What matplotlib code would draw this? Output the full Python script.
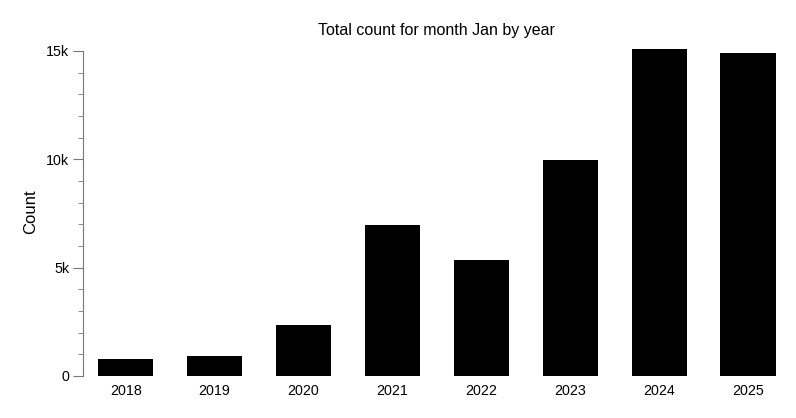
import numpy as np
import matplotlib.pyplot as plt
from matplotlib.ticker import MultipleLocator, FuncFormatter

plt.rcParams['font.family'] = ['Liberation Sans', 'DejaVu Sans']

years = ['2018', '2019', '2020', '2021', '2022', '2023', '2024', '2025']
counts = [770, 920, 2350, 6980, 5360, 9970, 15080, 14920]

fig = plt.figure(figsize=(7.96, 4.18), dpi=100)
ax = fig.add_axes([0.1043, 0.1005, 0.889, 0.788])

x = np.arange(len(years))
ax.bar(x, counts, width=0.62, color='black')

ax.set_xlim(-0.48, len(years) - 0.52)
ax.set_ylim(0, 15200)
ax.set_xticks(x)
ax.set_xticklabels(years, fontsize=10.3)
ax.tick_params(axis='x', length=0, pad=6)

ax.yaxis.set_major_locator(MultipleLocator(5000))
ax.yaxis.set_minor_locator(MultipleLocator(1000))
ax.yaxis.set_major_formatter(FuncFormatter(lambda v, p: '0' if v == 0 else f'{int(v/1000)}k'))
ax.tick_params(axis='y', which='major', length=7, color='#777777', labelsize=10.3, pad=3)
ax.tick_params(axis='y', which='minor', length=3.5, color='#777777')

for s in ['top', 'right', 'bottom']:
    ax.spines[s].set_visible(False)
ax.spines['left'].set_color('#777777')
ax.spines['left'].set_bounds(0, 15000)

ax.set_ylabel('Count', fontsize=12)
ax.yaxis.set_label_coords(-0.063, 0.5)
ax.set_title('Total count for month Jan by year', fontsize=11.5, pad=8)

fig.savefig('out.png', dpi=100)
